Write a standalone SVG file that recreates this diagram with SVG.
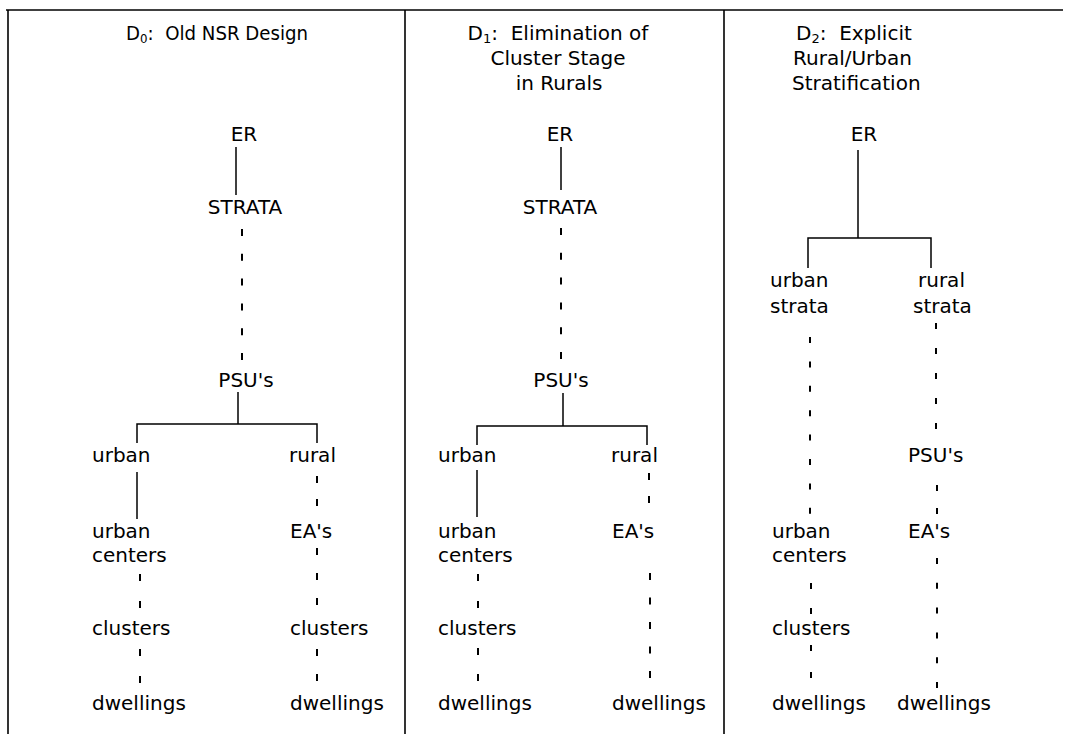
<svg xmlns="http://www.w3.org/2000/svg" width="1065" height="734" viewBox="0 0 1065 734">
<style>
text{font-family:"DejaVu Sans","Liberation Sans",sans-serif;font-size:20px;fill:#000}
.sub{font-size:13px}
.m{text-anchor:middle}
.solid{stroke:#000;stroke-width:1.5;fill:none}
.dash{stroke:#000;stroke-width:2;fill:none}
.frame{stroke:#000;stroke-width:1.6;fill:none}
</style>
<rect width="1065" height="734" fill="#fff"/>
<g id="frame">
<path class="frame" d="M6 10 H1063"/>
<path class="frame" d="M8 10 V734"/>
<path class="frame" d="M405 10 V734"/>
<path class="frame" d="M724 10 V734"/>
</g>
<g id="titles">
<text xml:space="preserve" x="126" y="40" font-size="19" textLength="182" lengthAdjust="spacingAndGlyphs">D<tspan class="sub" dy="3">0</tspan><tspan dy="-3">:  Old NSR Design</tspan></text>
<text xml:space="preserve" class="m" x="558" y="40">D<tspan class="sub" dy="3">1</tspan><tspan dy="-3">:  Elimination of</tspan></text>
<text class="m" x="558" y="65">Cluster Stage</text>
<text class="m" x="559" y="90">in Rurals</text>
<text xml:space="preserve" x="796" y="40">D<tspan class="sub" dy="3">2</tspan><tspan dy="-3">:  Explicit</tspan></text>
<text x="793" y="65">Rural/Urban</text>
<text x="792" y="90">Stratification</text>
</g>
<g id="connectors">
<path class="solid" d="M236 147 V195"/>
<path class="dash" d="M242 229 V362" stroke-dasharray="7 17.8"/>
<path class="solid" d="M238 392 V424"/>
<path class="solid" d="M137 443 V424 H317 V443"/>
<path class="solid" d="M137 472 V519"/>
<path class="dash" d="M317 476 V507" stroke-dasharray="7 16"/>
<path class="dash" d="M140 574 V609" stroke-dasharray="7 20"/>
<path class="dash" d="M140 649 V684" stroke-dasharray="7 20"/>
<path class="dash" d="M317 548 V607" stroke-dasharray="7 18"/>
<path class="dash" d="M317 649 V682" stroke-dasharray="7 18"/>
<path class="solid" d="M561 147 V190"/>
<path class="dash" d="M561 228 V360" stroke-dasharray="7 17.8"/>
<path class="solid" d="M563 393 V426"/>
<path class="solid" d="M477 445 V426 H647 V445"/>
<path class="solid" d="M477 470 V517"/>
<path class="dash" d="M649 473 V504" stroke-dasharray="7 16"/>
<path class="dash" d="M478 574 V609" stroke-dasharray="7 20"/>
<path class="dash" d="M478 648 V681" stroke-dasharray="7 19"/>
<path class="dash" d="M650 573 V678" stroke-dasharray="7 17.5"/>
<path class="solid" d="M858 150 V238"/>
<path class="solid" d="M808 268 V238 H931 V268"/>
<path class="dash" d="M810 337 V514" stroke-dasharray="6 18.4"/>
<path class="dash" d="M936 323 V429" stroke-dasharray="6 19"/>
<path class="dash" d="M937 485 V514" stroke-dasharray="6 17"/>
<path class="dash" d="M937 558 V688" stroke-dasharray="6 18.8"/>
<path class="dash" d="M811 583 V614" stroke-dasharray="6 19"/>
<path class="dash" d="M811 645 V678" stroke-dasharray="6 21"/>
</g>
<g id="d0-er"><text class="m" x="244" y="141" font-size="21">ER</text></g>
<g id="d0-strata"><text class="m" x="245" y="214" font-size="21">STRATA</text></g>
<g id="d0-psus"><text class="m" x="246" y="387">PSU's</text></g>
<g id="d0-urban"><text x="92" y="462">urban</text></g>
<g id="d0-rural"><text x="289" y="462">rural</text></g>
<g id="d0-urban-centers"><text x="92" y="538">urban</text><text x="92" y="562">centers</text></g>
<g id="d0-eas"><text x="290" y="538">EA's</text></g>
<g id="d0-clusters-u"><text x="92" y="635">clusters</text></g>
<g id="d0-clusters-r"><text x="290" y="635">clusters</text></g>
<g id="d0-dwellings-u"><text x="92" y="710">dwellings</text></g>
<g id="d0-dwellings-r"><text x="290" y="710">dwellings</text></g>
<g id="d1-er"><text class="m" x="560" y="141" font-size="21">ER</text></g>
<g id="d1-strata"><text class="m" x="560" y="214" font-size="21">STRATA</text></g>
<g id="d1-psus"><text class="m" x="561" y="387">PSU's</text></g>
<g id="d1-urban"><text x="438" y="462">urban</text></g>
<g id="d1-rural"><text x="611" y="462">rural</text></g>
<g id="d1-urban-centers"><text x="438" y="538">urban</text><text x="438" y="562">centers</text></g>
<g id="d1-eas"><text x="612" y="538">EA's</text></g>
<g id="d1-clusters"><text x="438" y="635">clusters</text></g>
<g id="d1-dwellings-u"><text x="438" y="710">dwellings</text></g>
<g id="d1-dwellings-r"><text x="612" y="710">dwellings</text></g>
<g id="d2-er"><text class="m" x="864" y="141" font-size="21">ER</text></g>
<g id="d2-urban-strata"><text x="770" y="287">urban</text><text x="770" y="313">strata</text></g>
<g id="d2-rural-strata"><text x="918" y="287">rural</text><text x="913" y="313">strata</text></g>
<g id="d2-psus"><text x="908" y="462">PSU's</text></g>
<g id="d2-eas"><text x="908" y="538">EA's</text></g>
<g id="d2-urban-centers"><text x="772" y="538">urban</text><text x="772" y="562">centers</text></g>
<g id="d2-clusters"><text x="772" y="635">clusters</text></g>
<g id="d2-dwellings-u"><text x="772" y="710">dwellings</text></g>
<g id="d2-dwellings-r"><text x="897" y="710">dwellings</text></g>
</svg>
